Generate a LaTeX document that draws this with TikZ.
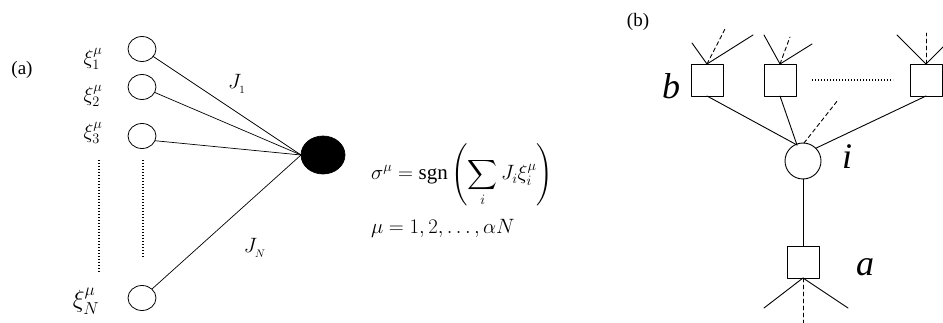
\documentclass[tikz,border=0pt]{standalone}
\usepackage{amsmath}
\usepackage{fontspec}
\setmainfont{Liberation Serif}
\usetikzlibrary{shapes.geometric}
\tikzset{
    net/diagram/.style={
        x=1pt, y=-1pt,
        line width=0.7pt,
        line cap=round,
        line join=round,
        every node/.style={inner sep=0pt, outer sep=0pt}
    },
    net/input/.style={ellipse, draw, line width=0.8pt, minimum width=28pt, minimum height=25pt},
    net/output/.style={ellipse, draw, fill=black, minimum width=44pt, minimum height=38pt},
    net/var/.style={circle, draw, line width=0.9pt, minimum size=36pt},
    net/factor/.style={rectangle, draw, line width=0.9pt, minimum size=32pt},
    net/edge/.style={draw, line width=0.7pt},
    net/leg/.style={draw, line width=0.9pt},
    net/hidden/.style={draw, line width=0.9pt, dash pattern=on 4pt off 3pt},
    net/ellipsis/.style={draw, line width=1.4pt, line cap=butt, dash pattern=on 1.2pt off 1.8pt},
    net/tag/.style={font=\fontsize{19}{21}\selectfont},
    net/weight/.style={font=\fontsize{21}{23}\selectfont},
    net/label/.style={font=\fontsize{20}{22}\selectfont},
    net/biglabel/.style={font=\fontsize{36}{38}\selectfont\itshape},
    net/formula/.style={font=\fontsize{21}{24}\selectfont, anchor=west}
}
\begin{document}
\begin{tikzpicture}[net/diagram]
    \useasboundingbox (0,0) rectangle (943,323);
    \clip (0,0) rectangle (943,323);
    % (a) perceptron
    \node[net/tag] (ta) at (22,70) {(a)};
    \node[net/input] (x1) at (142,49) {};
    \node[net/input] (x2) at (142,87) {};
    \node[net/input] (x3) at (142,136) {};
    \node[net/input] (xn) at (142,298) {};
    \node[net/output] (out) at (323,155) {};
    \node[net/label] (lx1) at (93,59) {$\xi_1^{\mu}$};
    \node[net/label] (lx2) at (93,96) {$\xi_2^{\mu}$};
    \node[net/label] (lx3) at (93,133) {$\xi_3^{\mu}$};
    \node[net/label, font=\fontsize{25}{27}\selectfont] (lxn) at (86,301) {$\xi_N^{\mu}$};
    \draw[net/edge] (x1) -- (out.west);
    \draw[net/edge] (x2) -- (out.west);
    \draw[net/edge] (x3.-20) -- (out.west);
    \draw[net/edge] (xn) -- (out.west);
    \node[net/weight] (j1) at (237,84) {$J_{{}_1}$};
    \node[net/weight] (jn) at (255,248) {$J_{{}_N}$};
    \coordinate (d1a) at (99,160);
    \coordinate (d1b) at (99,273);
    \coordinate (d2a) at (143,160);
    \coordinate (d2b) at (143,258);
    \draw[net/ellipsis] (d1a) -- (d1b);
    \draw[net/ellipsis] (d2a) -- (d2b);
    \node[net/formula] (rule) at (371,175)
        {$\displaystyle \sigma^{\mu} = \text{sgn}\left(\sum_{i} J_i \xi_i^{\mu}\right)$};
    \node[net/formula, font=\fontsize{22}{25}\selectfont] (range) at (371,228)
        {$\mu = 1, 2, \ldots, \alpha N$};
    % (b) factor graph
    \node[net/tag] (tb) at (638,22) {(b)};
    \node[net/factor] (b1) at (707,80) {};
    \node[net/factor] (b2) at (780,80) {};
    \node[net/factor] (b3) at (926,80) {};
    \node[net/var] (vi) at (803,161) {};
    \node[net/factor] (fa) at (803,262) {};
    \node[net/biglabel] (lb) at (671,86) {b};
    \node[net/biglabel] (li) at (847,157) {i};
    \node[net/biglabel] (la) at (865,267) {a};
    \coordinate (vtop) at (797,145);
    \draw[net/leg] (b1.south) -- (vtop);
    \draw[net/leg] (b2.south) -- (vtop);
    \draw[net/leg] (b3.south) -- (vi.north east);
    \draw[net/leg] (vi.south) -- (fa.north);
    \coordinate (vdash) at (838,100);
    \draw[net/hidden] (vi.north) ++(1,0) -- (vdash);
    \coordinate (dots1) at (812,80);
    \coordinate (dots2) at (893,80);
    \draw[net/ellipsis] (dots1) -- (dots2);
    % legs on the factor nodes
    \coordinate (b1l) at (692,43);
    \coordinate (b1r) at (753,35);
    \coordinate (b1d) at (725,29);
    \coordinate (b2l) at (764,35);
    \coordinate (b2r) at (812,44);
    \coordinate (b2d) at (790,37);
    \coordinate (b3l) at (897,35);
    \coordinate (b3r) at (955,35);
    \coordinate (b3d) at (926,33);
    \draw[net/leg] (b1l) -- (b1.north) -- (b1r);
    \draw[net/hidden] (b1.north) -- (b1d);
    \draw[net/leg] (b2l) -- (b2.north) -- (b2r);
    \draw[net/hidden] (b2.north) -- (b2d);
    \draw[net/leg] (b3l) -- (b3.north) -- (b3r);
    \draw[net/hidden] (b3.north) -- (b3d);
    \coordinate (fal) at (764,308);
    \coordinate (far) at (848,308);
    \coordinate (fad) at (803,323);
    \draw[net/leg] (fal) -- (fa.south) -- (far);
    \draw[net/hidden] (fa.south) -- (fad);
\end{tikzpicture}
\end{document}
